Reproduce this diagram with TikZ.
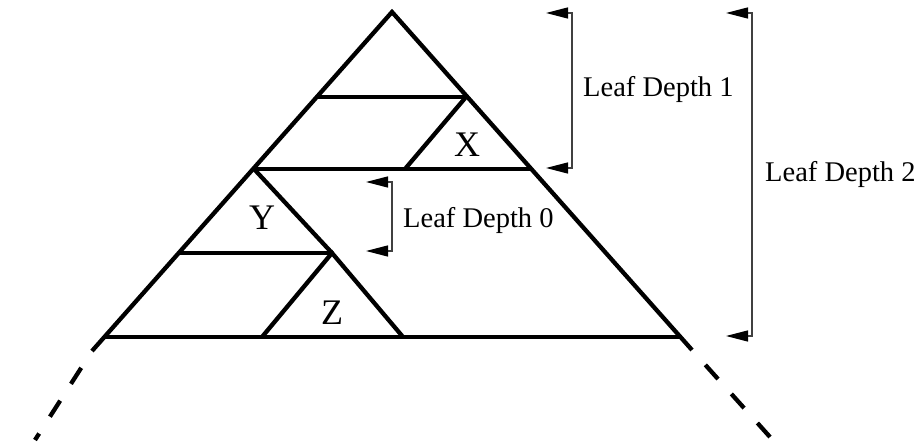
\documentclass[tikz,border=0pt]{standalone}
\usepackage{fontspec}
\setmainfont{Liberation Serif}
\usetikzlibrary{arrows.meta}
\tikzset{
  thick line/.style={line width=4.3pt, line join=miter},
  dashline/.style={line width=4.3pt, dash pattern=on 19pt off 20pt, dash phase=19pt},
  bracket/.style={line width=1.3pt, black!75, {Triangle[length=22pt,width=11pt,black]}-{Triangle[length=22pt,width=11pt,black]}},
  big/.style={font=\fontsize{36}{40}\selectfont, inner sep=0pt, anchor=base},
  lbl/.style={font=\fontsize{28.5}{32}\selectfont, inner sep=0pt, anchor=base west}
}
\begin{document}
\begin{tikzpicture}[x=1pt,y=-1pt]
\useasboundingbox (0,0) rectangle (919,443);
% main triangle
\coordinate (A) at (392,12);
\coordinate (Le) at (92,351);
\coordinate (Re) at (692,350);
\coordinate (BL) at (105,337);
\coordinate (BR) at (680,337);
\coordinate (L97) at (317,97);
\coordinate (R97) at (466,97);
\coordinate (L169) at (254,169);
\coordinate (R169) at (531,169);
\coordinate (X1) at (405,169);
\coordinate (L253) at (178,253);
\coordinate (M253) at (332,253);
\coordinate (Z1) at (262,337);
\coordinate (Z2) at (403,337);
\coordinate (LD) at (35,440);
\coordinate (RD) at (770,437);
\draw[thick line] (Le) -- (A) -- (Re);
\draw[thick line] (BL) -- (BR);
\draw[thick line] (L97) -- (R97);
\draw[thick line] (L169) -- (R169);
\draw[thick line] (R97) -- (X1);
\draw[thick line] (L169) -- (M253);
\draw[thick line] (L253) -- (M253);
\draw[thick line] (Z1) -- (M253) -- (Z2);
\draw[dashline] (Le) -- (LD);
\draw[dashline] (Re) -- (RD);
% labels
\node[big] (x) at (467,157) {X};
\node[big] (y) at (262,230) {Y};
\node[big] (z) at (332,325) {Z};
% brackets
\coordinate (b1a) at (546,13);
\coordinate (b1b) at (546,168);
\draw[bracket] (b1a) -- (572,13) -- (572,168) -- (b1b);
\node[lbl] (l1) at (583,97) {Leaf Depth 1};
\coordinate (b2a) at (726,13);
\coordinate (b2b) at (726,336);
\draw[bracket] (b2a) -- (752,13) -- (752,336) -- (b2b);
\node[lbl] (l2) at (765,182) {Leaf Depth 2};
\coordinate (b0a) at (366,182);
\coordinate (b0b) at (366,251);
\draw[bracket] (b0a) -- (392,182) -- (392,251) -- (b0b);
\node[lbl] (l0) at (403,228) {Leaf Depth 0};
\end{tikzpicture}
\end{document}
